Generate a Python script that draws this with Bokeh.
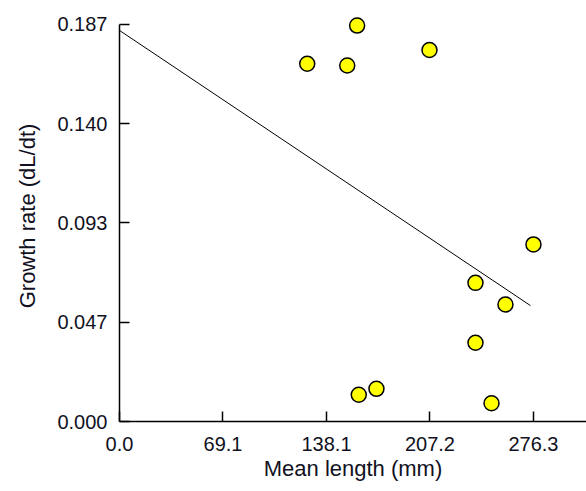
from bokeh.plotting import figure
from bokeh.models import Range1d, FixedTicker, ColumnDataSource
from bokeh.embed import file_html
from bokeh.resources import INLINE

# Data
mean_length = [158.6, 125.3, 152.0, 206.9, 276.3, 237.6, 257.6, 237.6, 159.7, 171.5, 248.3]
growth_rate = [0.1865, 0.1685, 0.1677, 0.1750, 0.0834, 0.0653, 0.0551, 0.0371, 0.0126, 0.0154, 0.0086]

fit_x = [0.0, 274.3]
fit_y = [0.1842, 0.0546]

x_ticks = [0.0, 69.075, 138.15, 207.225, 276.3]
x_tick_labels = ["0.0", "69.1", "138.1", "207.2", "276.3"]
y_ticks = [0.0, 0.04675, 0.0935, 0.14025, 0.187]
y_tick_labels = ["0.000", "0.047", "0.093", "0.140", "0.187"]

FONT = "Liberation Sans"

p = figure(width=586, height=491, output_backend="svg", toolbar_location=None,
           x_range=Range1d(0, 311.7), y_range=Range1d(0, 0.19359),
           min_border_left=119, min_border_right=0, min_border_top=10, min_border_bottom=70)

p.outline_line_color = None
p.xgrid.visible = False
p.ygrid.visible = False
p.background_fill_color = "white"
p.border_fill_color = "white"

p.line(fit_x, fit_y, line_color="black", line_width=1)

src = ColumnDataSource(dict(x=mean_length, y=growth_rate))
p.scatter("x", "y", source=src, size=15, marker="circle",
          fill_color="#FFFF00", line_color="black", line_width=1.5)

for ax, ticks, labels in ((p.xaxis[0], x_ticks, x_tick_labels), (p.yaxis[0], y_ticks, y_tick_labels)):
    ax.ticker = FixedTicker(ticks=ticks)
    ax.major_label_overrides = {t: l for t, l in zip(ticks, labels)}
    ax.minor_tick_line_color = None
    ax.major_tick_in = 10
    ax.major_tick_out = 0
    ax.major_tick_line_width = 1.5
    ax.major_tick_line_color = "black"
    ax.axis_line_width = 1.5
    ax.axis_line_color = "black"
    ax.major_label_text_font = FONT
    ax.major_label_text_font_size = "20px"
    ax.major_label_text_color = "#111122"
    ax.axis_label_text_font = FONT
    ax.axis_label_text_font_size = "22px"
    ax.axis_label_text_font_style = "normal"
    ax.axis_label_text_color = "#111122"

p.xaxis[0].major_label_standoff = 15
p.yaxis[0].major_label_standoff = 12
p.yaxis[0].bounds = (0, 0.187)
p.xaxis[0].axis_label = "Mean length (mm)"
p.yaxis[0].axis_label = "Growth rate (dL/dt)"
p.xaxis[0].axis_label_standoff = 2
p.yaxis[0].axis_label_standoff = 14

open("out.html", "w").write(file_html(p, INLINE))
